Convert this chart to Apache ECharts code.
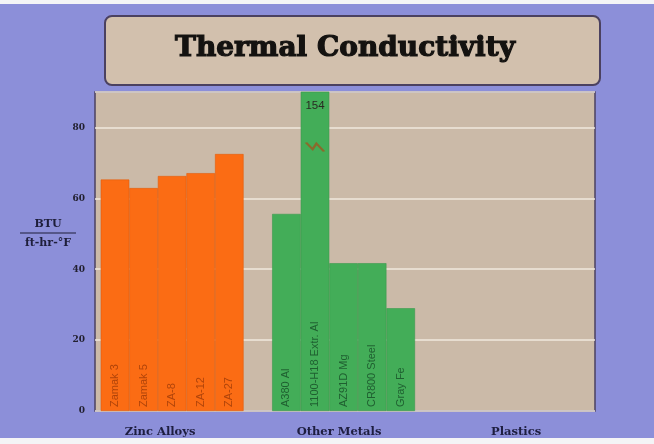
<!DOCTYPE html>
<html>
<head>
<meta charset="utf-8">
<script src="https://cdn.jsdelivr.net/npm/echarts@6/dist/echarts.min.js"></script>
<style>
  html, body { margin: 0; padding: 0; background: #8c8fd9; }
  #chart { width: 654px; height: 444px; }
</style>
</head>
<body>
<div id="chart"></div>
<script>
// Thermal conductivity, BTU / (ft·hr·°F)
const zincNames = ['Zamak 3', 'Zamak 5', 'ZA-8', 'ZA-12', 'ZA-27'];
const zincValues = [65.3, 62.9, 66.3, 67.1, 72.5];
const metalNames = ['A380 Al', '1100-H18 Extr. Al', 'AZ91D Mg', 'CR800 Steel', 'Gray Fe'];
const metalValues = [55.6, 154, 41.7, 41.7, 29.0];
const groupNames = ['Zinc Alloys', 'Other Metals', 'Plastics'];
const yTicks = [0, 20, 40, 60, 80];

const ZINC_COLOR = '#fb6c14';
const METAL_COLOR = '#43ad58';
const Y_MAX = 90;

// bar slots: zinc alloys first, one empty slot, then the other metals
const bars = [];
zincNames.forEach((n, i) => bars.push({
  name: n, value: [i + 0.5, zincValues[i]],
  itemStyle: { color: ZINC_COLOR, borderColor: '#e35c0c' },
  label: { color: '#b0440a' }
}));
metalNames.forEach((n, i) => bars.push({
  name: n, value: [zincNames.length + 1 + i + 0.5, metalValues[i]],
  itemStyle: { color: METAL_COLOR, borderColor: '#3a9a4d' },
  label: { color: '#1f5f30' }
}));

// bars taller than the axis get their value printed near the top, plus a break mark
const offScale = bars.filter(b => b.value[1] > Y_MAX);

// group captions sit under each block of bars
const groupSpots = [2.08, 8.34, 14.54];

const chart = echarts.init(document.getElementById('chart'), null, { renderer: 'canvas' });
chart.setOption({
  backgroundColor: '#8c8fd9',
  animation: false,
  graphic: [
    { type: 'rect', shape: { x: 0, y: 0, width: 654, height: 4 }, style: { fill: '#f4f4f6' }, z: -1 },
    { type: 'rect', shape: { x: 0, y: 438, width: 654, height: 6 }, style: { fill: '#f4f4f6' }, z: -1 },
    {
      type: 'rect', z: -1,
      shape: { x: 105, y: 16, width: 495, height: 69, r: 7 },
      style: { fill: '#d2c0ad', stroke: '#4b4160', lineWidth: 2 }
    },
    {
      type: 'text', z: 10,
      style: {
        x: 345, y: 49, text: 'Thermal Conductivity', align: 'center', verticalAlign: 'middle',
        font: 'bold 28px "DejaVu Serif"', fill: '#141210',
        stroke: '#141210', lineWidth: 1.2
      }
    },
    {
      type: 'text', z: 10,
      style: { x: 48, y: 224, text: 'BTU', align: 'center', verticalAlign: 'middle',
        font: 'bold 11px "DejaVu Serif"', fill: '#1e1e3a' }
    },
    {
      type: 'line', z: 10,
      shape: { x1: 20, y1: 233, x2: 76, y2: 233 },
      style: { stroke: '#1e1e3a', lineWidth: 1.2 }
    },
    {
      type: 'text', z: 10,
      style: { x: 48, y: 243, text: 'ft-hr-°F', align: 'center', verticalAlign: 'middle',
        font: 'bold 11px "DejaVu Serif"', fill: '#1e1e3a' }
    }
  ],
  grid: {
    left: 95, right: 59, top: 92, bottom: 33,
    show: true, backgroundColor: '#cbbaa8', borderColor: '#4b4160', borderWidth: 1.5
  },
  xAxis: {
    type: 'value', min: -0.2, max: 17.3,
    axisLine: { show: false }, axisTick: { show: false }, splitLine: { show: false },
    axisLabel: {
      customValues: groupSpots,
      formatter: v => {
        const k = groupSpots.findIndex(s => Math.abs(s - v) < 1e-6);
        return k >= 0 ? groupNames[k] : '';
      },
      margin: 15,
      fontFamily: 'DejaVu Serif', fontWeight: 'bold', fontSize: 11.5,
      color: '#1e1e40'
    }
  },
  yAxis: {
    type: 'value', min: 0, max: Y_MAX, interval: 20,
    axisLine: { show: false }, axisTick: { show: false },
    axisLabel: {
      customValues: yTicks,
      margin: 10,
      fontFamily: 'DejaVu Serif', fontWeight: 'bold', fontSize: 9, color: '#222030'
    },
    splitLine: { show: true, lineStyle: { color: '#f1e8de', width: 1.5 } }
  },
  series: [{
    type: 'bar',
    data: bars,
    barCategoryGap: '0%',
    clip: true,
    itemStyle: { borderWidth: 0.6 },
    label: {
      show: true, formatter: p => p.name,
      position: 'insideBottom', rotate: 90, distance: 4,
      align: 'left', verticalAlign: 'middle',
      fontFamily: 'Liberation Sans', fontSize: 11
    },
    markPoint: {
      silent: true,
      data: offScale.flatMap(b => [
        {
          coord: [b.value[0], 86.2], symbol: 'rect', symbolSize: 1,
          itemStyle: { color: 'transparent' },
          label: { show: true, position: 'inside', formatter: String(b.value[1]),
            color: '#2a2a22', fontFamily: 'Liberation Sans', fontSize: 11.5 }
        },
        {
          coord: [b.value[0], 74.5],
          symbol: 'path://M0,2 L7,8 L11,3 L19,10',
          symbolSize: [18, 9],
          itemStyle: { color: 'transparent', borderColor: '#8a6a2c', borderWidth: 2 },
          label: { show: false }
        }
      ])
    }
  }]
});
</script>
</body>
</html>
